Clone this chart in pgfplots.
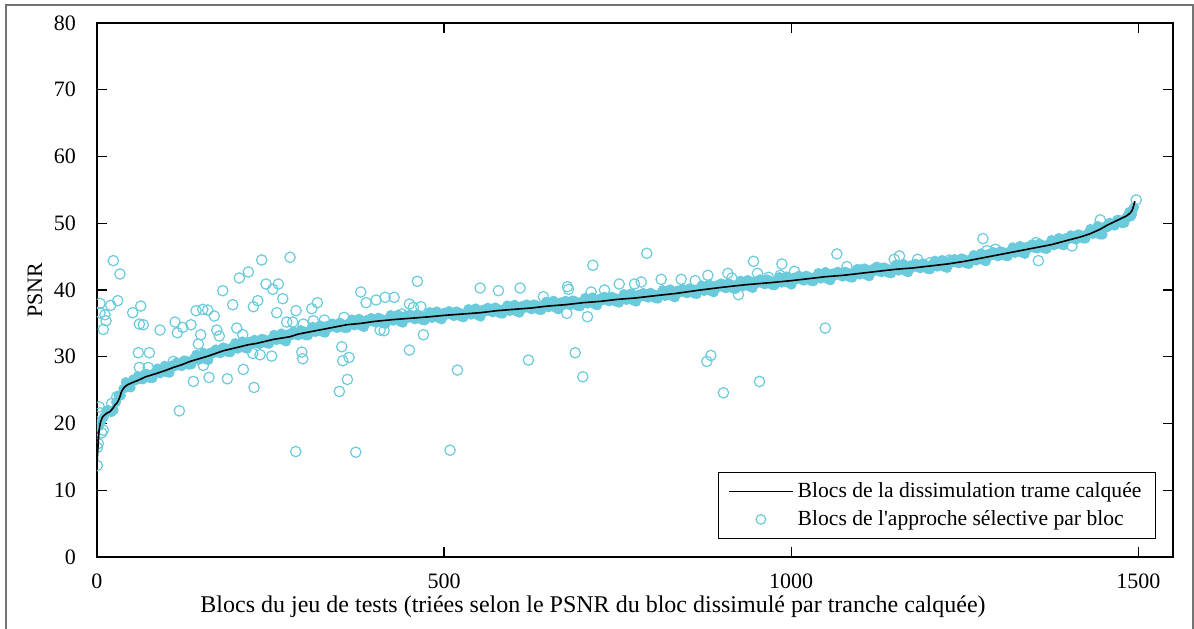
\documentclass[border=0pt]{standalone}
\usepackage{fontspec}
\setmainfont{Liberation Serif}
\newfontfamily\plainfont{Liberation Serif}
\usepackage{pgfplots}
\usepackage{pgfplotstable}
\pgfplotsset{compat=1.18}
\definecolor{cy}{RGB}{105,203,219}
\pgfplotsset{
  lineleg/.style={legend image code/.code={\draw[##1] (0pt,0pt) -- (32pt,0pt);}},
  markleg/.style={legend image code/.code={\draw[cy, line width=0.6pt, mark=o, mark size=2.4pt] plot coordinates {(16pt,0pt)};}},
}

\pgfplotstableread{
x y
0 14.0
1 15.8
2 17.5
3 19.0
5 20.2
8 21.0
11 21.3
15 21.6
19 21.8
23 22.3
26 22.8
29 23.1
31 23.5
33 24.0
35 24.7
37 25.1
40 25.5
44 25.8
48 26.0
55 26.3
60 26.5
70 27.0
86 27.5
100 28.0
110 28.4
122 28.8
134 29.3
147 29.7
160 30.1
171 30.5
182 30.9
194 31.2
206 31.5
218 31.8
230 32.0
242 32.3
254 32.6
266 32.8
278 33.0
290 33.4
300 33.6
315 33.9
330 34.2
345 34.5
360 34.8
380 35.0
400 35.3
430 35.6
456 35.8
480 36.0
500 36.2
526 36.4
552 36.6
576 36.9
600 37.1
625 37.3
650 37.6
675 37.8
700 38.1
725 38.3
750 38.6
775 38.8
800 39.1
835 39.5
869 40.0
900 40.4
935 40.8
970 41.1
1000 41.4
1025 41.7
1050 42.0
1075 42.2
1100 42.5
1125 42.8
1150 43.1
1175 43.3
1200 43.6
1225 43.9
1250 44.3
1275 44.8
1300 45.3
1325 45.8
1350 46.3
1375 46.8
1400 47.5
1415 47.9
1430 48.4
1445 49.1
1455 49.7
1465 50.2
1475 50.7
1483 51.1
1488 51.5
1491 51.9
1493 52.5
1495 53.3
}\linedata

\pgfplotstableread{
x y
3 19.6
10 21.0
17 22.0
24 22.0
31 24.2
38 25.2
45 25.45
52 26.6
59 27.1
66 26.6
73 27.4
80 26.8
87 28.25
94 27.8
101 27.65
108 28.7
115 29.15
122 28.6
129 29.4
136 28.85
143 30.3
150 29.8
157 29.6
164 30.65
171 31.1
178 30.55
185 31.3
192 30.65
199 32.05
206 31.5
213 31.3
220 32.25
227 32.55
234 31.9
241 32.6
248 31.95
255 33.3
262 32.75
269 32.45
276 33.4
283 33.8
290 33.2
297 33.85
304 33.2
311 34.5
318 33.95
325 33.7
332 34.65
339 35.0
346 34.3
353 34.95
360 34.3
367 35.6
374 34.95
381 34.6
388 35.5
395 35.8
402 35.1
409 35.7
416 34.95
423 36.25
430 35.6
437 35.25
444 36.1
451 36.35
458 35.6
465 36.2
472 35.45
479 36.7
486 36.05
493 35.75
500 36.6
507 36.85
514 36.1
521 36.65
528 35.9
535 37.15
542 36.5
549 36.2
556 37.05
563 37.35
570 36.65
577 37.2
584 36.45
591 37.7
598 37.1
605 36.75
612 37.6
619 37.85
626 37.1
633 37.7
640 37.0
647 38.25
654 37.65
661 37.3
668 38.15
675 38.4
682 37.7
689 38.3
696 37.55
703 38.8
710 38.2
717 37.85
724 38.7
731 39.0
738 38.3
745 38.85
752 38.1
759 39.4
766 38.75
773 38.4
780 39.3
787 39.55
794 38.85
801 39.4
808 38.7
815 40.0
822 39.35
829 39.05
836 39.9
843 40.2
850 39.5
857 40.1
864 39.4
871 40.7
878 40.1
885 39.8
892 40.7
899 41.0
906 40.25
913 40.85
920 40.15
927 41.4
934 40.8
941 40.45
948 41.3
955 41.6
962 40.85
969 41.4
976 40.7
983 41.95
990 41.3
997 41.0
1004 41.85
1011 42.15
1018 41.4
1025 42.0
1032 41.3
1039 42.55
1046 41.95
1053 41.6
1060 42.5
1067 42.75
1074 42.0
1081 42.6
1088 41.85
1095 43.15
1102 42.5
1109 42.2
1116 43.1
1123 43.35
1130 42.65
1137 43.25
1144 42.5
1151 43.8
1158 43.15
1165 42.8
1172 43.7
1179 43.95
1186 43.25
1193 43.8
1200 43.1
1207 44.4
1214 43.75
1221 43.45
1228 44.35
1235 44.65
1242 44.0
1249 44.6
1256 43.9
1263 45.25
1270 44.7
1277 44.45
1284 45.4
1291 45.7
1298 45.05
1305 45.7
1312 45.05
1319 46.4
1326 45.8
1333 45.55
1340 46.5
1347 46.85
1354 46.2
1361 46.8
1368 46.15
1375 47.5
1382 47.0
1389 46.8
1396 47.8
1403 48.2
1410 47.55
1417 48.25
1424 47.7
1431 49.15
1438 48.75
1445 48.3
1452 49.5
1459 50.1
1466 49.65
1473 50.5
1480 50.05
1483 50.8
1487 51.7
1489 51.0
1491 51.5
1492 52.0
1494 52.4
6.5 20.4
13.5 21.95
20.5 21.7
27.5 23.2
34.5 24.2
41.5 26.2
48.5 25.4
55.5 26.45
62.5 26.65
69.5 27.45
76.5 26.8
83.5 27.65
90.5 27.5
97.5 28.65
104.5 27.6
111.5 28.55
118.5 28.7
125.5 29.45
132.5 28.8
139.5 29.7
146.5 29.5
153.5 30.6
160.5 29.5
167.5 30.5
174.5 30.6
181.5 31.4
188.5 30.7
195.5 31.45
202.5 31.2
209.5 32.3
216.5 31.2
223.5 32.0
230.5 32.0
237.5 32.7
244.5 32.0
251.5 32.7
258.5 32.5
265.5 33.5
272.5 32.3
279.5 33.2
286.5 33.3
293.5 34.0
300.5 33.2
307.5 33.95
314.5 33.7
321.5 34.7
328.5 33.6
335.5 34.4
342.5 34.45
349.5 35.1
356.5 34.3
363.5 35.05
370.5 34.7
377.5 35.7
384.5 34.45
391.5 35.25
398.5 35.25
405.5 35.85
412.5 35.0
419.5 35.7
426.5 35.4
433.5 36.3
440.5 35.1
447.5 35.8
454.5 35.8
461.5 36.35
468.5 35.5
475.5 36.2
482.5 35.8
489.5 36.8
496.5 35.6
503.5 36.3
510.5 36.3
517.5 36.8
524.5 36.0
531.5 36.6
538.5 36.3
545.5 37.25
552.5 36.0
559.5 36.8
566.5 36.8
573.5 37.4
580.5 36.5
587.5 37.2
594.5 36.85
601.5 37.8
608.5 36.6
615.5 37.3
622.5 37.3
629.5 37.85
636.5 37.05
643.5 37.7
650.5 37.4
657.5 38.4
664.5 37.1
671.5 37.9
678.5 37.85
685.5 38.45
692.5 37.6
699.5 38.3
706.5 37.95
713.5 38.9
720.5 37.7
727.5 38.45
734.5 38.45
741.5 39.0
748.5 38.2
755.5 38.85
762.5 38.5
769.5 39.5
776.5 38.25
783.5 39.0
790.5 39.0
797.5 39.6
804.5 38.75
811.5 39.45
818.5 39.1
825.5 40.1
832.5 38.9
839.5 39.65
846.5 39.65
853.5 40.25
860.5 39.45
867.5 40.15
874.5 39.85
881.5 40.85
888.5 39.65
895.5 40.45
902.5 40.4
909.5 41.0
916.5 40.2
923.5 40.9
930.5 40.55
937.5 41.5
944.5 40.3
951.5 41.05
958.5 41.0
965.5 41.6
972.5 40.75
979.5 41.4
986.5 41.1
993.5 42.05
1000.5 40.8
1007.5 41.6
1014.5 41.6
1021.5 42.15
1028.5 41.35
1035.5 42.0
1042.5 41.7
1049.5 42.7
1056.5 41.45
1063.5 42.2
1070.5 42.2
1077.5 42.75
1084.5 41.9
1091.5 42.6
1098.5 42.3
1105.5 43.25
1112.5 42.05
1119.5 42.8
1126.5 42.8
1133.5 43.4
1140.5 42.55
1147.5 43.25
1154.5 42.9
1161.5 43.9
1168.5 42.65
1175.5 43.4
1182.5 43.4
1189.5 44.0
1196.5 43.15
1203.5 43.85
1210.5 43.5
1217.5 44.5
1224.5 43.3
1231.5 44.1
1238.5 44.1
1245.5 44.75
1252.5 43.95
1259.5 44.7
1266.5 44.4
1273.5 45.5
1280.5 44.3
1287.5 45.15
1294.5 45.2
1301.5 45.8
1308.5 45.1
1315.5 45.8
1322.5 45.55
1329.5 46.6
1336.5 45.4
1343.5 46.3
1350.5 46.3
1357.5 46.95
1364.5 46.2
1371.5 46.9
1378.5 46.7
1385.5 47.8
1392.5 46.7
1399.5 47.6
1406.5 47.7
1413.5 48.35
1420.5 47.7
1427.5 48.5
1434.5 48.4
1441.5 49.6
1448.5 48.3
1455.5 49.4
1462.5 49.7
1469.5 50.5
1476.5 50.0
1483.5 51.0
1490.5 51.2
}\banddata

\pgfplotstableread{
x y
23.5 44.4
33.1 42.4
4.3 38.0
4.3 36.6
11.5 36.3
13.0 35.4
9.1 34.1
19.7 37.7
29.8 38.4
51.4 36.6
63.0 37.6
61.0 34.9
66.7 34.8
90.8 34.0
112.4 35.2
115.7 33.6
123.5 34.4
135.4 34.8
142.7 36.9
152.3 37.1
159.5 37.0
169.0 36.1
181.1 39.9
195.5 37.8
205.0 41.8
218.0 42.7
237.3 44.5
243.5 40.9
253.2 40.1
261.2 40.9
267.6 38.7
278.1 44.9
225.2 37.5
231.6 38.4
258.9 36.6
273.3 35.2
149.4 33.3
172.5 34.0
176.2 33.1
201.3 34.3
209.9 33.3
146.0 31.9
59.5 30.6
75.4 30.6
109.9 29.3
61.0 28.4
73.9 28.4
153.2 28.7
138.8 26.3
161.4 26.9
187.8 26.7
210.8 28.1
226.2 25.4
224.4 30.5
234.9 30.3
251.7 30.1
118.6 21.9
3.3 22.5
4.3 21.6
21.2 23.0
28.4 24.0
6.8 18.6
9.1 19.0
1.9 17.0
0.4 16.4
0.4 13.7
286.7 36.9
309.4 37.2
317.4 38.1
282.0 35.2
297.3 34.9
311.7 35.4
327.5 35.5
355.9 35.9
380.0 39.7
387.6 38.1
402.0 38.5
415.0 38.9
428.0 38.9
450.0 37.9
455.8 37.4
466.4 37.5
461.5 41.3
439.0 36.4
551.9 40.3
295.0 30.7
296.4 29.7
352.6 31.5
354.0 29.4
363.1 29.9
360.7 26.6
349.1 24.8
407.8 34.0
413.5 33.9
470.2 33.3
450.0 31.0
519.2 28.0
286.3 15.8
372.8 15.7
508.6 16.0
792.0 45.5
714.3 43.7
578.3 39.9
609.5 40.3
677.7 40.5
679.1 40.1
711.8 39.7
731.0 40.0
752.2 40.9
774.2 40.9
783.9 41.2
812.7 41.6
841.5 41.6
861.7 41.4
880.0 42.2
908.8 42.5
643.0 39.0
676.8 36.5
706.5 36.0
621.5 29.5
688.8 30.6
699.8 27.0
884.3 30.2
878.5 29.3
902.4 24.6
1065.8 45.4
945.7 44.3
986.6 43.9
914.5 41.8
951.4 42.5
1004.8 42.8
984.0 42.2
1080.3 43.5
1099.4 43.0
1123.5 43.4
1148.4 44.6
1156.0 45.1
1182.0 44.6
1200.0 44.1
1228.0 44.5
967.3 41.9
924.0 39.3
1049.0 34.3
954.3 26.3
1276.2 47.7
1445.2 50.5
1282.0 45.9
1294.0 46.1
1353.0 47.1
1356.0 44.4
1404.5 46.6
1497.0 53.5
}\outdata

\begin{document}
\begin{tikzpicture}
\begin{axis}[
  at={(0pt,0pt)}, anchor=south west,
  scale only axis, width=538pt, height=267pt,
  xmin=0, xmax=1550, ymin=0, ymax=80,
  clip marker paths=true,
  xtick={0,500,1000,1500}, ytick={0,10,20,30,40,50,60,70,80},
  tick align=inside, major tick length=5pt,
  tick style={black, line width=0.6pt},
  axis line style={line width=0.6pt},
  font=\fontsize{11}{13}\selectfont,
  /pgf/number format/assume math mode=true,
  scaled ticks=false,
  /pgf/number format/set thousands separator={},
  yticklabel style={xshift=-7pt},
  xticklabel style={yshift=-5pt},
  xlabel={Blocs du jeu de tests (triées selon le PSNR du bloc dissimulé par tranche calquée)},
  xlabel style={at={(axis description cs:0.461,0)}, anchor=base, yshift=-27.5pt, font=\fontsize{12}{14}\selectfont},
  ylabel={PSNR},
  ylabel style={at={(axis description cs:-0.0576,0.5)}, anchor=center},
  reverse legend,
  legend cell align=left,
  legend style={at={(axis description cs:1,0)}, anchor=south east,
    xshift=-8.5pt, yshift=9pt, draw=black, line width=0.6pt,
    font=\fontsize{10.8}{13}\selectfont, inner xsep=5pt, inner ysep=3pt,
    row sep=1pt},
]
\addplot[only marks, mark=*, mark size=2.2pt, draw=cy, fill=cy, mark options={line width=0.6pt, draw=cy, fill=cy}, markleg]
  table[x=x,y=y]{\banddata};
\addlegendentry{Blocs de l{\plainfont'}approche sélective par bloc}
\addplot[only marks, mark=o, mark size=2.6pt, draw=cy, mark options={line width=0.6pt, draw=cy}, forget plot]
  table[x=x,y=y]{\outdata};
\addplot[black, line width=0.8pt, no marks, lineleg]
  table[x=x,y=y]{\linedata};
\addlegendentry{Blocs de la dissimulation trame calquée}
\end{axis}
\draw[black!55, line width=1pt] (-45.5pt,-40pt) -- (-45.5pt,276.2pt) -- (548pt,276.2pt) -- (548pt,-40pt);
\pgfresetboundingbox
\useasboundingbox (-48.5pt,-35.5pt) rectangle (548.5pt,278.5pt);
\end{tikzpicture}
\end{document}
